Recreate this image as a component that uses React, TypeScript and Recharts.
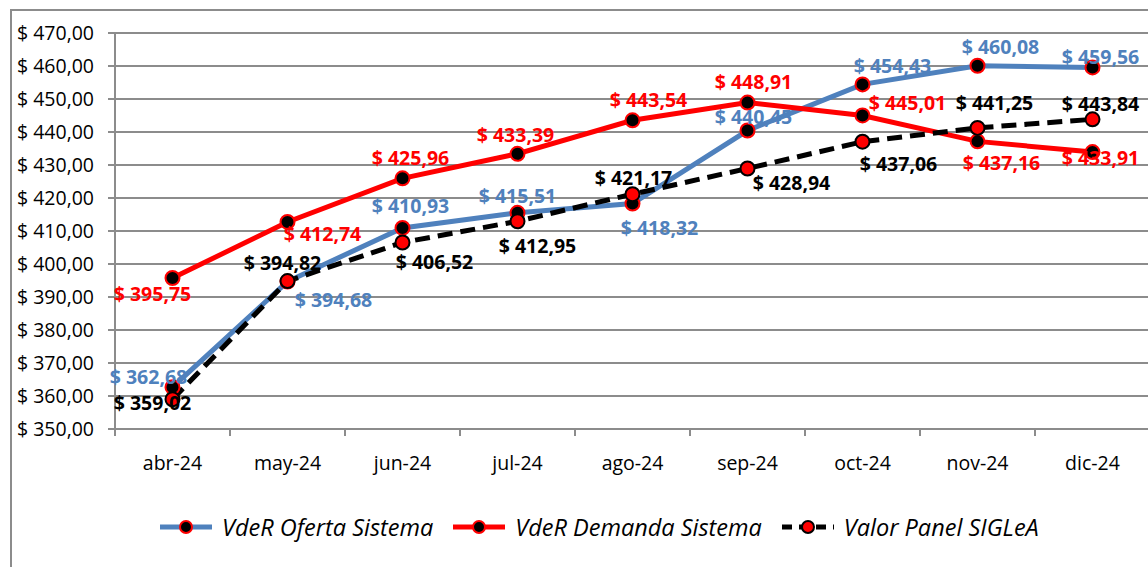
import React from "react";
import { LineChart, Line, XAxis, YAxis, CartesianGrid, Legend, LabelList } from "recharts";

const months = ["abr-24", "may-24", "jun-24", "jul-24", "ago-24", "sep-24", "oct-24", "nov-24", "dic-24"];
const oferta = [362.68, 394.68, 410.93, 415.51, 418.32, 440.45, 454.43, 460.08, 459.56];
const demanda = [395.75, 412.74, 425.96, 433.39, 443.54, 448.91, 445.01, 437.16, 433.91];
const panel = [359.02, 394.82, 406.52, 412.95, 421.17, 428.94, 437.06, 441.25, 443.84];
const yTicks = [350, 360, 370, 380, 390, 400, 410, 420, 430, 440, 450, 460, 470];

const data = months.map((m, i) => ({ month: m, oferta: oferta[i], demanda: demanda[i], panel: panel[i] }));

// label offsets (dx, dy) from each point, per series
const ofertaOff = [[-24, -11], [46, 18], [8, -22], [0, -17], [27, 24], [6, -14], [30, -19], [23, -19], [8, -11]];
const demandaOff = [[-20, 15], [35, 12], [8, -21], [-2, -19], [16, -21], [6, -21], [45, -13], [24, 21], [8, 5]];
const panelOff = [[-20, 3], [-5, -19], [32, 19], [20, 24], [1, -17], [44, 14], [36, 22], [17, -25], [8, -16]];

const FONT = "'Open Sans', sans-serif";
const BLUE = "#4F81BD";
const RED = "#FF0000";
const GRID = "#8c8c8c";
const PLOT_BOTTOM = 418;

const money = (v: number) => `$ ${v.toFixed(2).replace(".", ",")}`;

function makeLabel(offsets: number[][], color: string) {
  return (p: any) => {
    const i = p.index ?? 0;
    const [dx, dy] = offsets[i] || [0, -15];
    return (
      <text
        x={p.x + dx}
        y={p.y + dy}
        textAnchor="middle"
        dominantBaseline="central"
        fill={color}
        fontFamily={FONT}
        fontSize={19.5}
        fontWeight={700}
      >
        {money(Number(p.value))}
      </text>
    );
  };
}

function makeDot(fill: string, stroke: string) {
  return (p: any) => (
    <circle key={`d-${p.index}`} cx={p.cx} cy={p.cy} r={7} fill={fill} stroke={stroke} strokeWidth={2} />
  );
}

function MonthTick(props: any) {
  const { x, payload } = props;
  const half = payload.offset || 57.5;
  const last = months.indexOf(payload.value) === months.length - 1;
  return (
    <g>
      <line x1={x - half} x2={x - half} y1={PLOT_BOTTOM} y2={PLOT_BOTTOM + 7} stroke={GRID} strokeWidth={2} />
      {last && <line x1={x + half} x2={x + half} y1={PLOT_BOTTOM} y2={PLOT_BOTTOM + 7} stroke={GRID} strokeWidth={2} />}
      <text x={x} y={PLOT_BOTTOM + 33} textAnchor="middle" dominantBaseline="central" fill="#000" fontFamily={FONT} fontSize={19.5}>
        {payload.value}
      </text>
    </g>
  );
}

function Sample({ color, dashed, fill, stroke }: { color: string; dashed?: boolean; fill: string; stroke: string }) {
  return (
    <svg width={56} height={20} style={{ display: "block" }}>
      <line x1={2} x2={54} y1={10} y2={10} stroke={color} strokeWidth={5} strokeDasharray={dashed ? "10 7" : undefined} />
      <circle cx={28} cy={10} r={6} fill={fill} stroke={stroke} strokeWidth={2} />
    </svg>
  );
}

function LegendBox() {
  const items = [
    { name: "VdeR Oferta Sistema", color: BLUE, fill: "#000", stroke: RED },
    { name: "VdeR Demanda Sistema", color: RED, fill: "#000", stroke: RED },
    { name: "Valor Panel SIGLeA", color: "#000", fill: RED, stroke: "#000", dashed: true },
  ];
  return (
    <div style={{ height: 116, display: "flex", alignItems: "center", paddingLeft: 146 }}>
      {items.map((it) => (
        <div key={it.name} style={{ display: "flex", alignItems: "center", marginRight: 18 }}>
          <Sample color={it.color} dashed={it.dashed} fill={it.fill} stroke={it.stroke} />
          <span style={{ fontFamily: FONT, fontStyle: "italic", fontSize: 23.5, marginLeft: 8, color: "#000" }}>{it.name}</span>
        </div>
      ))}
    </div>
  );
}

export default function App() {
  return (
    <div
      style={{
        position: "fixed",
        left: 10,
        top: 9,
        width: 1170,
        height: 590,
        border: `2px solid ${GRID}`,
        background: "#fff",
      }}
    >
      <LineChart width={1148} height={574} data={data} margin={{ top: 22, right: 10, left: 0, bottom: 0 }}>
        <CartesianGrid vertical={false} stroke={GRID} strokeWidth={2} />
        <XAxis
          dataKey="month"
          scale="band"
          height={40}
          axisLine={{ stroke: GRID, strokeWidth: 2 }}
          tickLine={false}
          tick={<MonthTick />}
          interval={0}
        />
        <YAxis
          width={103}
          domain={[350, 470]}
          ticks={yTicks}
          interval={0}
          tickFormatter={money}
          axisLine={{ stroke: GRID, strokeWidth: 2 }}
          tickLine={{ stroke: GRID, strokeWidth: 2 }}
          tickSize={7}
          tickMargin={14}
          tick={{ fill: "#000", fontFamily: FONT, fontSize: 19.5 }}
        />
        <Legend verticalAlign="bottom" content={<LegendBox />} />
        <Line
          dataKey="oferta"
          stroke={BLUE}
          strokeWidth={5}
          dot={makeDot("#000", RED)}
          isAnimationActive={false}
        >
          <LabelList dataKey="oferta" content={makeLabel(ofertaOff, BLUE)} />
        </Line>
        <Line
          dataKey="demanda"
          stroke={RED}
          strokeWidth={5}
          dot={makeDot("#000", RED)}
          isAnimationActive={false}
        >
          <LabelList dataKey="demanda" content={makeLabel(demandaOff, RED)} />
        </Line>
        <Line
          dataKey="panel"
          stroke="#000"
          strokeWidth={5}
          strokeDasharray="15 8"
          dot={makeDot(RED, "#000")}
          isAnimationActive={false}
        >
          <LabelList dataKey="panel" content={makeLabel(panelOff, "#000")} />
        </Line>
      </LineChart>
    </div>
  );
}
